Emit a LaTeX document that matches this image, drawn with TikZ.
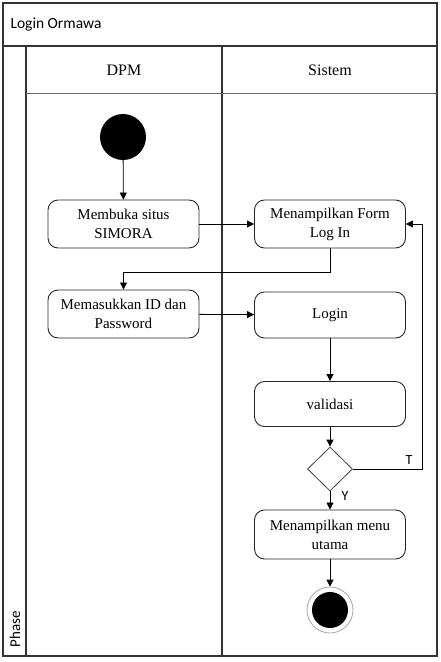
\documentclass[tikz,border=0pt]{standalone}
\usepackage{fontspec}
\setmainfont{Liberation Serif}
\newfontfamily\calfont{Carlito}
\usetikzlibrary{shapes.geometric,arrows.meta}
\begin{document}
\begin{tikzpicture}[x=1pt,y=-1pt,
  act/.style={draw=black!85,line width=0.9pt,rounded corners=10pt,minimum width=151pt,minimum height=48pt,align=center,font=\fontsize{15}{19}\selectfont,inner sep=2pt},
  flow/.style={draw=black,line width=0.8pt,-{Triangle[length=7pt,width=7pt]}},
  frame/.style={draw=black!80,line width=1.2pt},
  lbl/.style={font=\calfont\fontsize{14}{16}\selectfont}
]
\useasboundingbox (0,0) rectangle (440,662);
% frame
\draw[frame] (3,3) rectangle (437,656);
\draw[frame] (3,46) -- (437,46);
\draw[frame] (26,46) -- (26,656);
\draw[frame] (222,46) -- (222,656);
\draw[draw=black!60,line width=1pt] (26,93) -- (437,93);
\node[font=\calfont\fontsize{15.5}{18}\selectfont,anchor=west] (title) at (7,24) {Login Ormawa};
\node[font=\fontsize{16}{18}\selectfont] (dpm) at (124,70) {DPM};
\node[font=\fontsize{16}{18}\selectfont] (sis) at (330,70) {Sistem};
\node[font=\calfont\fontsize{15}{17}\selectfont,rotate=90,anchor=west] (phase) at (15,651) {Phase};
% nodes
\node[circle,fill=black,minimum size=46pt,inner sep=0pt] (start) at (123,137) {};
\node[act] (buka) at (123.5,224) {Membuka situs\\SIMORA};
\node[act] (form) at (330,224) {Menampilkan Form\\Log In};
\node[act] (masuk) at (123.5,314) {Memasukkan ID dan\\Password};
\node[act,minimum height=46pt] (login) at (330,315) {Login};
\node[act,minimum height=45pt] (valid) at (330,404) {validasi};
\node[diamond,draw=black!75,line width=0.8pt,minimum width=45pt,minimum height=44pt,inner sep=0pt,aspect=1] (dec) at (330,469) {};
\node[act,minimum height=49pt] (menu) at (330,534.5) {Menampilkan menu\\utama};
\node[circle,draw=black!35,line width=0.8pt,minimum size=46pt,inner sep=0pt] (endo) at (330,610) {};
\node[circle,fill=black,minimum size=36pt,inner sep=0pt] (endi) at (330,610) {};
% connectors
\draw[flow] (start) -- (buka);
\draw[flow] (buka) -- (form);
\draw[flow] (form.south) -- (330,272) -- (123.5,272) -- (masuk.north);
\draw[flow] (masuk) -- (login);
\draw[flow] (login) -- (valid);
\draw[flow] (valid) -- (dec);
\draw[flow] (dec.east) -- (422,469) -- (422,224) -- (form.east);
\draw[flow] (dec) -- (menu);
\draw[flow] (menu) -- (endo);
\node[lbl] (t) at (409,460) {T};
\node[lbl] (y) at (345,496) {Y};
\end{tikzpicture}
\end{document}
